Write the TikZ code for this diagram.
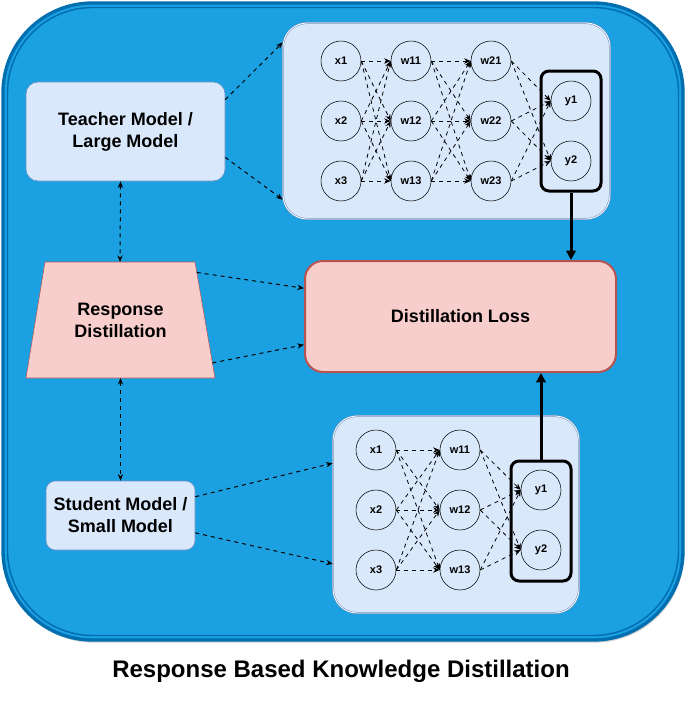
\documentclass[tikz,border=0pt]{standalone}
\usepackage{fontspec}
\setmainfont{Liberation Sans}
\usetikzlibrary{arrows.meta,shadows,calc}
\definecolor{bgblue}{HTML}{1BA1E2}
\definecolor{bgedge}{HTML}{006EAF}
\definecolor{lightblue}{HTML}{DAE8FC}
\definecolor{blueedge}{HTML}{6C8EBF}
\definecolor{lightred}{HTML}{F8CECC}
\definecolor{rededge}{HTML}{B85450}
\tikzset{
	modelbox/.style={rounded corners=9pt, draw=blueedge, fill=lightblue, align=center, font=\fontsize{13.5}{16.5}\selectfont\bfseries},
	panel/.style={rounded corners=18pt, draw=blueedge, double=white, double distance=0.6pt, fill=lightblue},
	neuron/.style={circle, draw, fill=lightblue, minimum size=30pt, inner sep=0pt, font=\fontsize{8.25}{10}\selectfont\bfseries},
	outbox/.style={rounded corners=6pt, draw, line width=2.25pt, minimum width=45pt, minimum height=90pt},
	nnarrow/.style={dashed, line width=0.6pt, -{Stealth[length=5pt,width=4pt]}},
	linkarrow/.style={dashed, line width=0.75pt, -{Stealth[length=5pt,width=4pt]}},
	bothways/.style={dashed, line width=0.75pt, {Stealth[length=5pt,width=4pt]}-{Stealth[length=5pt,width=4pt]}},
	lossarrow/.style={line width=2.25pt, -{Triangle[length=7pt,width=7pt]}}
}
\begin{document}
\begin{tikzpicture}[x=0.75pt, y=-0.75pt, font=\bfseries, line join=round]
	\useasboundingbox (0,0) rectangle (694,703);
	\draw[bgedge, line width=2.5pt, fill=bgblue, rounded corners=67pt, drop shadow={opacity=0.35, shadow xshift=1pt, shadow yshift=-2pt}] (3,3) rectangle (683,640);
	\draw[bgedge, line width=1.1pt, rounded corners=64pt] (7.5,7.5) rectangle (678.5,635.5);
	
	\node[modelbox, minimum width=149.25pt, minimum height=74.25pt] (teacher) at (125.5,131.5) {Teacher Model /\\Large Model};
	\coordinate (respTL) at (45,262);
	\coordinate (respTR) at (195,262);
	\coordinate (respBR) at (215,378);
	\coordinate (respBL) at (26,378);
	\draw[rededge, fill=lightred] (respTL) -- (respTR) -- (respBR) -- (respBL) -- cycle;
	\node[align=center, font=\fontsize{13.5}{16.5}\selectfont\bfseries] (resp) at (120.5,320) {Response\\Distillation};
	\node[modelbox, minimum width=111.75pt, minimum height=51.75pt, rounded corners=7pt] (student) at (120.5,515.5) {Student Model /\\Small Model};
	\node[rounded corners=13.5pt, draw=rededge, line width=1.5pt, fill=lightred, minimum width=233.25pt, minimum height=83.25pt, font=\fontsize{13.5}{16.5}\selectfont\bfseries] (loss) at (460.5,316.5) {Distillation Loss};
	
	\node[panel, minimum width=245.25pt, minimum height=147pt] (tnet) at (446.5,121) {};
	\node[panel, minimum width=184.5pt, minimum height=147.75pt] (snet) at (456,514.5) {};
	
	\node[outbox] (tout) at (571,131) {};
	\node[outbox] (sout) at (541,521) {};
	
	\foreach \i/\y in {1/61,2/121,3/181} {
		\node[neuron] (tx\i) at (341,\y) {x\i};
		\node[neuron] (ta\i) at (411,\y) {w1\i};
		\node[neuron] (tb\i) at (491,\y) {w2\i};
	}
	\foreach \i/\y in {1/101,2/161}
		\node[neuron] (ty\i) at (571,\y) {y\i};
	
	\foreach \i/\y in {1/450,2/510,3/570} {
		\node[neuron] (sx\i) at (376,\y) {x\i};
		\node[neuron] (sa\i) at (460,\y) {w1\i};
	}
	\foreach \i/\y in {1/490,2/550}
		\node[neuron] (sy\i) at (541,\y) {y\i};
	
	\foreach \i in {1,2,3} {
		\foreach \j in {1,2,3} {
			\draw[nnarrow] (tx\i.east) -- (ta\j.west);
			\draw[nnarrow] (ta\i.east) -- (tb\j.west);
			\draw[nnarrow] (sx\i.east) -- (sa\j.west);
		}
		\foreach \j in {1,2} {
			\draw[nnarrow] (tb\i.east) -- (ty\j.west);
			\draw[nnarrow] (sa\i.east) -- (sy\j.west);
		}
	}
	
	\draw[linkarrow] ($(teacher.north east)!0.18!(teacher.south east)$) -- ($(tnet.north west)!0.1!(tnet.south west)$);
	\draw[linkarrow] ($(teacher.north east)!0.76!(teacher.south east)$) -- ($(tnet.north west)!0.9!(tnet.south west)$);
	\draw[linkarrow] ($(student.north east)!0.23!(student.south east)$) -- ($(snet.north west)!0.24!(snet.south west)$);
	\draw[linkarrow] ($(student.north east)!0.75!(student.south east)$) -- ($(snet.north west)!0.75!(snet.south west)$);
	\draw[linkarrow] ($(respTR)!0.09!(respBR)$) -- ($(loss.north west)!0.25!(loss.south west)$);
	\draw[linkarrow] ($(respTR)!0.87!(respBR)$) -- ($(loss.north west)!0.75!(loss.south west)$);
	\draw[bothways] ($(teacher.south)+(-5,0)$) -- ($(respTL)!0.5!(respTR)$);
	\draw[bothways] ($(respBL)!0.5!(respBR)$) -- (student.north);
	
	\draw[lossarrow] (tout.south) -- (tout.south |- loss.north);
	\draw[lossarrow] (sout.north) -- (sout.north |- loss.south);
	
	\node[font=\fontsize{18}{22}\selectfont\bfseries] (title) at (341,671) {Response Based Knowledge Distillation};
\end{tikzpicture}
\end{document}
